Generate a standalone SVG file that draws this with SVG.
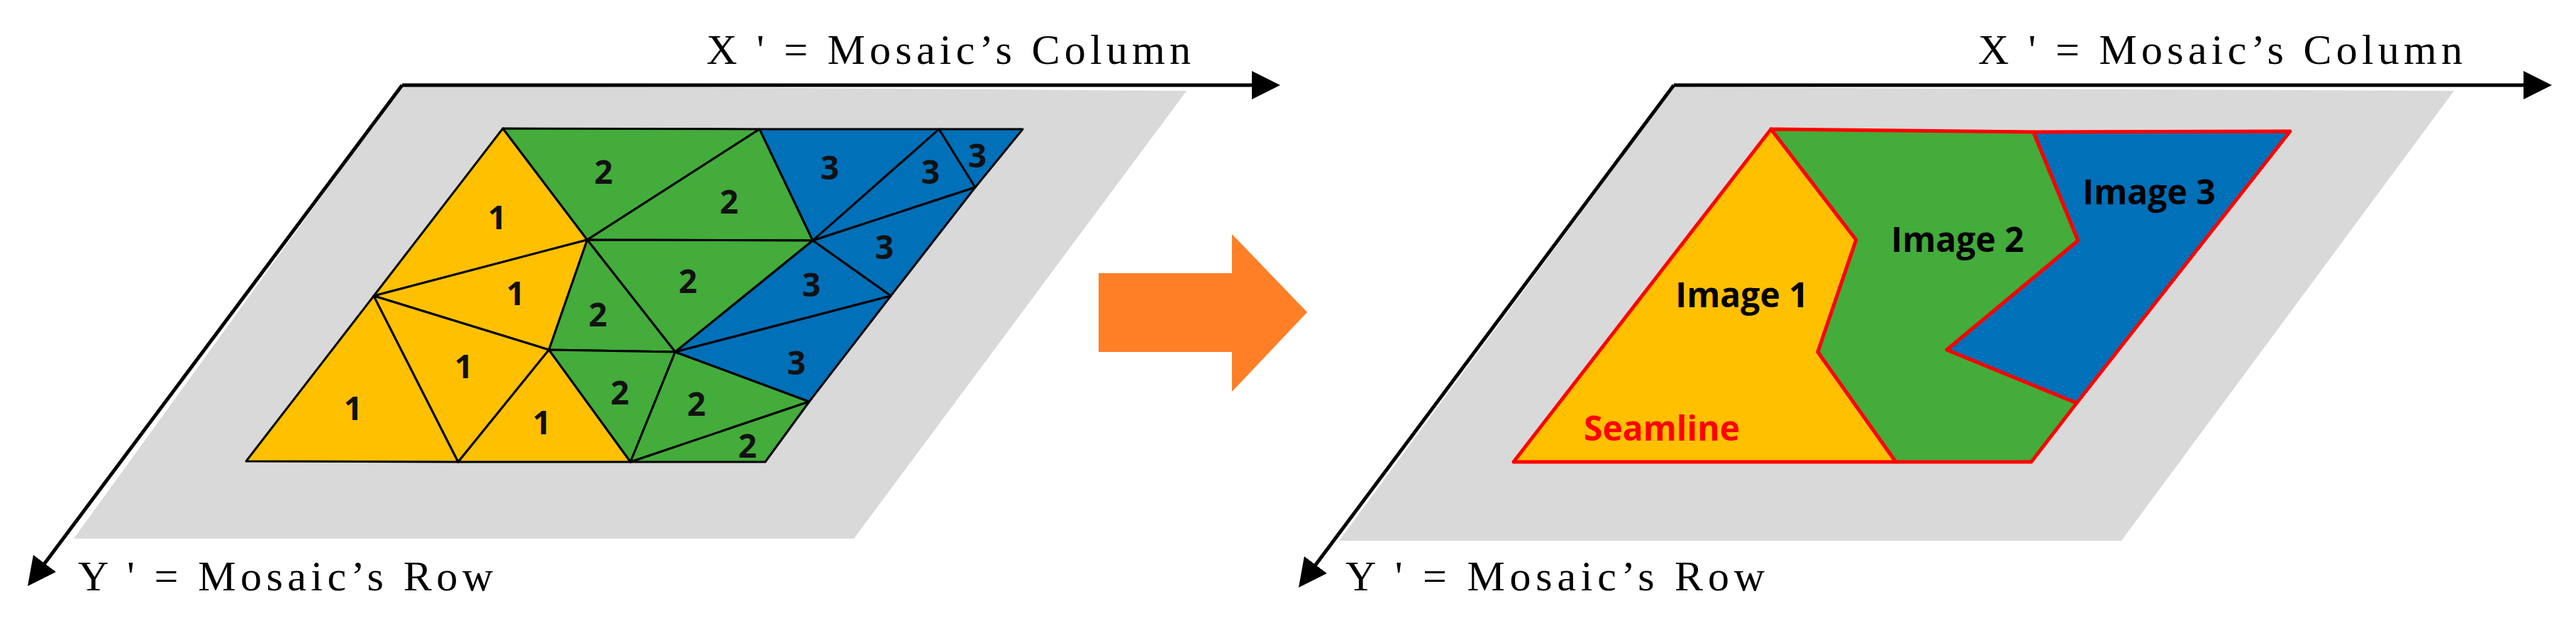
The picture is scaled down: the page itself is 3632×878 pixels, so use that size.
<svg xmlns="http://www.w3.org/2000/svg" width="3632" height="878" viewBox="0 0 3632 878">
<style>
.ax{font-family:"Liberation Serif",serif;font-size:60px;fill:#000}
.y{fill:#FFC000}.g{fill:#43AC3B}.b{fill:#0070B8}
.tri polygon{stroke:#000;stroke-width:3;stroke-linejoin:round}
.n{font-family:"Open Sans","Liberation Sans",sans-serif;font-weight:bold;font-size:46px;fill:#111;text-anchor:middle;dominant-baseline:central}
.im{font-family:"Open Sans","Liberation Sans",sans-serif;font-weight:bold;font-size:48px;fill:#000;text-anchor:middle;dominant-baseline:central}
.axis{stroke:#000;stroke-width:5;fill:none}
</style>
<defs>
<marker id="ah" markerWidth="8" markerHeight="8" refX="6" refY="4" orient="auto" markerUnits="strokeWidth"><path d="M0,0 L8,4 L0,8 Z" fill="#000"/></marker>
</defs>
<g id="left-panel">
<polygon points="567,120 1673,128 1204,759 104,759" fill="#D9D9D9"/>
<g class="tri">
<polygon class="y" points="709,181 828,338 527,417"/>
<polygon class="y" points="527,417 828,338 774,493"/>
<polygon class="y" points="347,650 527,417 646,651"/>
<polygon class="y" points="527,417 774,493 646,651"/>
<polygon class="y" points="646,651 774,493 889,651"/>
<polygon class="g" points="709,181 1071,182 828,338"/>
<polygon class="g" points="1071,182 1146,339 828,338"/>
<polygon class="g" points="828,338 1146,339 952,496"/>
<polygon class="g" points="828,338 952,496 774,493"/>
<polygon class="g" points="774,493 952,496 889,651"/>
<polygon class="g" points="952,496 1141,566 889,651"/>
<polygon class="g" points="889,651 1141,566 1079,651"/>
<polygon class="b" points="1071,182 1324,182 1146,339"/>
<polygon class="b" points="1324,182 1375,264 1146,339"/>
<polygon class="b" points="1324,182 1442,182 1375,264"/>
<polygon class="b" points="1146,339 1375,264 1256,417"/>
<polygon class="b" points="1146,339 1256,417 952,496"/>
<polygon class="b" points="952,496 1256,417 1141,566"/>
</g>
<text class="n" x="701" y="305">1</text><text class="n" x="727" y="412">1</text><text class="n" x="654" y="515">1</text><text class="n" x="498" y="574">1</text><text class="n" x="764" y="594">1</text>
<text class="n" x="851" y="241">2</text><text class="n" x="1028" y="283">2</text><text class="n" x="970" y="395">2</text><text class="n" x="843" y="442">2</text><text class="n" x="874" y="552">2</text><text class="n" x="982" y="568">2</text><text class="n" x="1054" y="627">2</text>
<text class="n" x="1170" y="235">3</text><text class="n" x="1312" y="241">3</text><text class="n" x="1378" y="218">3</text><text class="n" x="1247" y="347">3</text><text class="n" x="1144" y="400">3</text><text class="n" x="1123" y="510">3</text>
<text class="ax" x="996" y="90" textLength="683">X ' = Mosaic’s Column</text>
<text class="ax" x="110" y="832" textLength="585">Y ' = Mosaic’s Row</text>
</g>
<g id="right-panel">
<polygon points="2360,123 3460,128 2991,762 1888,762" fill="#D9D9D9"/>
<g stroke="#FF0000" stroke-width="5" stroke-linejoin="round">
<polygon class="y" points="2497,182 2617,338 2563,496 2673,651 2134,651"/>
<polygon class="g" points="2497,182 2867,186 2930,339 2745,493 2928,568 2864,651 2673,651 2563,496 2617,338"/>
<polygon class="b" points="2867,186 3229,185 2928,568 2745,493 2930,339"/>
</g>
<text class="im" x="2456" y="414">Image 1</text>
<text class="im" x="2760" y="336">Image 2</text>
<text class="im" x="3030" y="269">Image 3</text>
<text class="im" x="2343" y="602" fill="#FF0000" style="fill:#FF0000">Seamline</text>
<text class="ax" x="2789" y="90" textLength="683">X ' = Mosaic’s Column</text>
<text class="ax" x="1897" y="832" textLength="591">Y ' = Mosaic’s Row</text>
</g>
<g id="connectors">
<path class="axis" d="M567,120 L1795,120" marker-end="url(#ah)"/>
<path class="axis" d="M567,120 L45,818" marker-end="url(#ah)"/>
<path class="axis" d="M2360,120 L3588,120" marker-end="url(#ah)"/>
<path class="axis" d="M2360,120 L1837,820" marker-end="url(#ah)"/>
<polygon id="process-arrow" points="1549,385 1737,385 1737,330 1843,440 1737,552 1737,496 1549,496" fill="#FF7F27"/>
</g>
</svg>
